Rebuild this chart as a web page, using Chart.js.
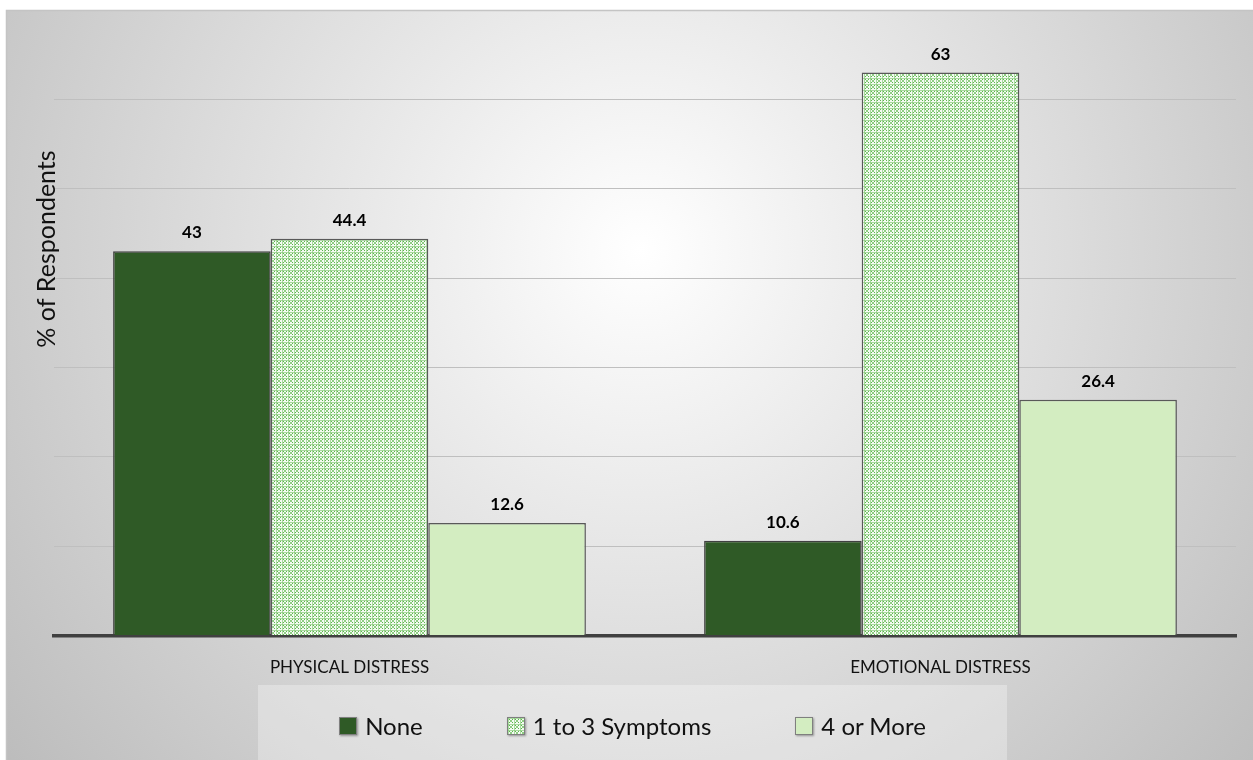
<!doctype html>
<html>
<head>
    <title>Distress Symptoms</title>
    <script src="https://cdn.jsdelivr.net/npm/chart.js@4/dist/chart.umd.min.js"></script>
    <style>
        html, body{
            margin: 0px;
            width: 100%;
            height: 100%;
            background: #fff;
        }
        #container{
            position: relative;
            width: 1253px;
            height: 760px;
        }
        #legend{
            position: absolute;
            left: 258px;
            top: 685px;
            width: 749px;
            height: 75px;
            background: rgba(255,255,255,0.3);
            display: flex;
            justify-content: center;
            align-items: center;
            gap: 84px;
            font-family: Lato, sans-serif;
            font-size: 24px;
            color: #111;
            padding-top: 6px;
            box-sizing: border-box;
        }
        .item{ display: flex; align-items: center; }
        .box{
            width: 16px;
            height: 16px;
            margin-right: 8px;
            border: 1px solid #7f7f7f;
            box-shadow: 1px 1px 2px rgba(0,0,0,0.35);
        }
    </style>
</head>
<body>
    <div id="container">
        <canvas id="canvas"></canvas>
        <div id="legend"></div>
    </div>

    <script>
        var categories = ['PHYSICAL DISTRESS', 'EMOTIONAL DISTRESS'];
        var seriesNames = ['None', '1 to 3 Symptoms', '4 or More'];
        var noneValues = [43, 10.6];
        var symptomValues = [44.4, 63];
        var moreValues = [12.6, 26.4];
        var yMax = 70;
        var yStep = 10;

        // little lattice tile for the "1 to 3" bars
        var tile = document.createElement('canvas');
        tile.width = 6;
        tile.height = 6;
        var t = tile.getContext('2d');
        t.fillStyle = '#f4fbf2';
        t.fillRect(0, 0, 6, 6);
        t.fillStyle = '#a9da9e';
        t.fillRect(0, 0, 6, 1);
        t.fillRect(0, 0, 1, 6);
        t.fillStyle = '#5cb44e';
        t.fillRect(1, 1, 1, 1);
        t.fillRect(4, 1, 1, 1);
        t.fillRect(1, 4, 1, 1);
        t.fillRect(4, 4, 1, 1);
        t.fillStyle = '#8fce83';
        t.fillRect(2, 2, 2, 2);
        t.fillRect(0, 0, 1, 1);
        var pattern = t.createPattern(tile, 'repeat');

        var background = {
            id: 'background',
            beforeDraw: function(chart){
                var ctx = chart.ctx;
                ctx.save();
                ctx.fillStyle = '#ffffff';
                ctx.fillRect(0, 0, chart.width, chart.height);
                var g = ctx.createRadialGradient(640, 250, 0, 640, 250, 820);
                g.addColorStop(0, '#ffffff');
                g.addColorStop(1, '#bcbcbc');
                ctx.fillStyle = g;
                ctx.fillRect(6, 10, chart.width - 6, chart.height - 10);
                ctx.strokeStyle = '#c4c4c4';
                ctx.lineWidth = 1.5;
                ctx.beginPath();
                ctx.moveTo(6.5, chart.height);
                ctx.lineTo(6.5, 10.5);
                ctx.lineTo(chart.width, 10.5);
                ctx.stroke();
                ctx.restore();
            }
        };

        var valueLabels = {
            id: 'valueLabels',
            afterDatasetsDraw: function(chart){
                var ctx = chart.ctx;
                ctx.save();
                ctx.font = 'bold 17px Lato, sans-serif';
                ctx.fillStyle = '#000';
                ctx.textAlign = 'center';
                ctx.textBaseline = 'alphabetic';
                chart.data.datasets.forEach(function(ds, d){
                    chart.getDatasetMeta(d).data.forEach(function(bar, j){
                        ctx.fillText(ds.data[j], bar.x, bar.y - 13);
                    });
                });
                // y axis title
                ctx.font = '25px Lato, sans-serif';
                ctx.fillStyle = '#111';
                ctx.translate(47, 249);
                ctx.rotate(-Math.PI / 2);
                ctx.textBaseline = 'middle';
                ctx.fillText('% of Respondents', 0, 0);
                ctx.restore();
            }
        };

        var ctx = document.getElementById('canvas').getContext('2d');
        var chart = new Chart(ctx, {
            type: 'bar',
            data: {
                labels: categories,
                datasets: [
                    { label: seriesNames[0], data: noneValues, backgroundColor: '#2f5a26', borderColor: '#404040', borderWidth: 1.5 },
                    { label: seriesNames[1], data: symptomValues, backgroundColor: pattern, borderColor: '#595959', borderWidth: 1.5 },
                    { label: seriesNames[2], data: moreValues, backgroundColor: '#d3edc1', borderColor: '#595959', borderWidth: 1.5 }
                ]
            },
            options: {
                responsive: true,
                maintainAspectRatio: false,
                animation: false,
                categoryPercentage: 0.8,
                barPercentage: 1.0,
                layout: { padding: { left: 54, right: 17, top: 10, bottom: 60 } },
                plugins: {
                    legend: { display: false },
                    tooltip: { enabled: false }
                },
                scales: {
                    x: {
                        grid: { display: false, drawTicks: false },
                        border: { display: true, color: '#404040', width: 3.5 },
                        ticks: {
                            padding: 22,
                            color: '#111',
                            font: { family: 'Lato, sans-serif', size: 17 }
                        }
                    },
                    y: {
                        min: 0,
                        max: yMax,
                        ticks: { display: false, stepSize: yStep },
                        border: { display: false },
                        grid: {
                            drawTicks: false,
                            color: function(c){
                                if(c.tick.value == 0 || c.tick.value == yMax) return 'rgba(0,0,0,0)';
                                return '#bfbfbf';
                            }
                        }
                    }
                }
            },
            plugins: [background, valueLabels]
        });

        // html legend
        var legend = document.getElementById('legend');
        chart.data.datasets.forEach(function(ds){
            var item = document.createElement('div');
            item.className = 'item';
            var box = document.createElement('span');
            box.className = 'box';
            if(ds.backgroundColor === pattern){
                box.style.backgroundImage = 'url(' + tile.toDataURL() + ')';
            } else {
                box.style.background = ds.backgroundColor;
            }
            var txt = document.createElement('span');
            txt.textContent = ds.label;
            item.appendChild(box);
            item.appendChild(txt);
            legend.appendChild(item);
        });
    </script>
</body>
</html>
